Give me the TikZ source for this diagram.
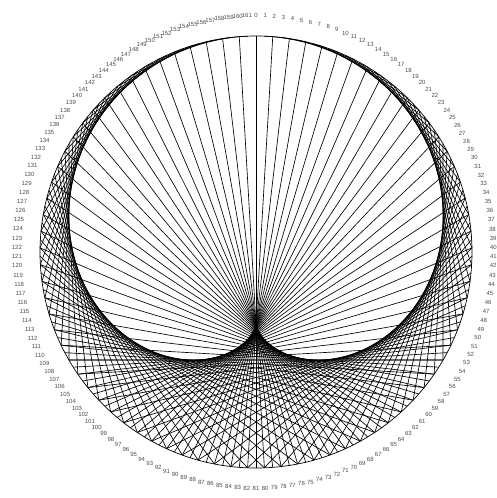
\documentclass[tikz,border=0pt]{standalone}
\usepackage{fontspec}
\setmainfont{Liberation Sans}
\tikzset{
  chord/.style={draw=black, line width=0.65pt},
  rim/.style={draw=black, line width=0.7pt},
  lab/.style={inner sep=0pt, font=\fontsize{6}{7}\selectfont, text=black!70}
}
\begin{document}
\begin{tikzpicture}[x=1pt,y=1pt]
\useasboundingbox (0,0) rectangle (496,498);
\def\cx{256}\def\cy{246}\def\R{216}\def\RL{234}
\coordinate (c) at (\cx,\cy);
\foreach \i in {0,...,161} {
  \pgfmathsetmacro\th{360/162*\i}
  \coordinate (p\i) at ({\cx+\R*sin(\th)},{\cy+\R*cos(\th)});
}
\draw[rim] (c) circle (\R);
\foreach \i in {1,...,161} {
  \pgfmathtruncatemacro\j{mod(2*\i,162)}
  \draw[chord] (p\i) -- (p\j);
}
\foreach \i in {0,...,161} {
  \pgfmathsetmacro\ang{90-360/162*\i}
  \pgfmathsetmacro\anc{mod(\ang+540,360)}
  \node[lab, anchor=\anc] (l\i) at ({\cx+\RL*cos(\ang)},{\cy+\RL*sin(\ang)}) {\i};
}
\end{tikzpicture}
\end{document}
